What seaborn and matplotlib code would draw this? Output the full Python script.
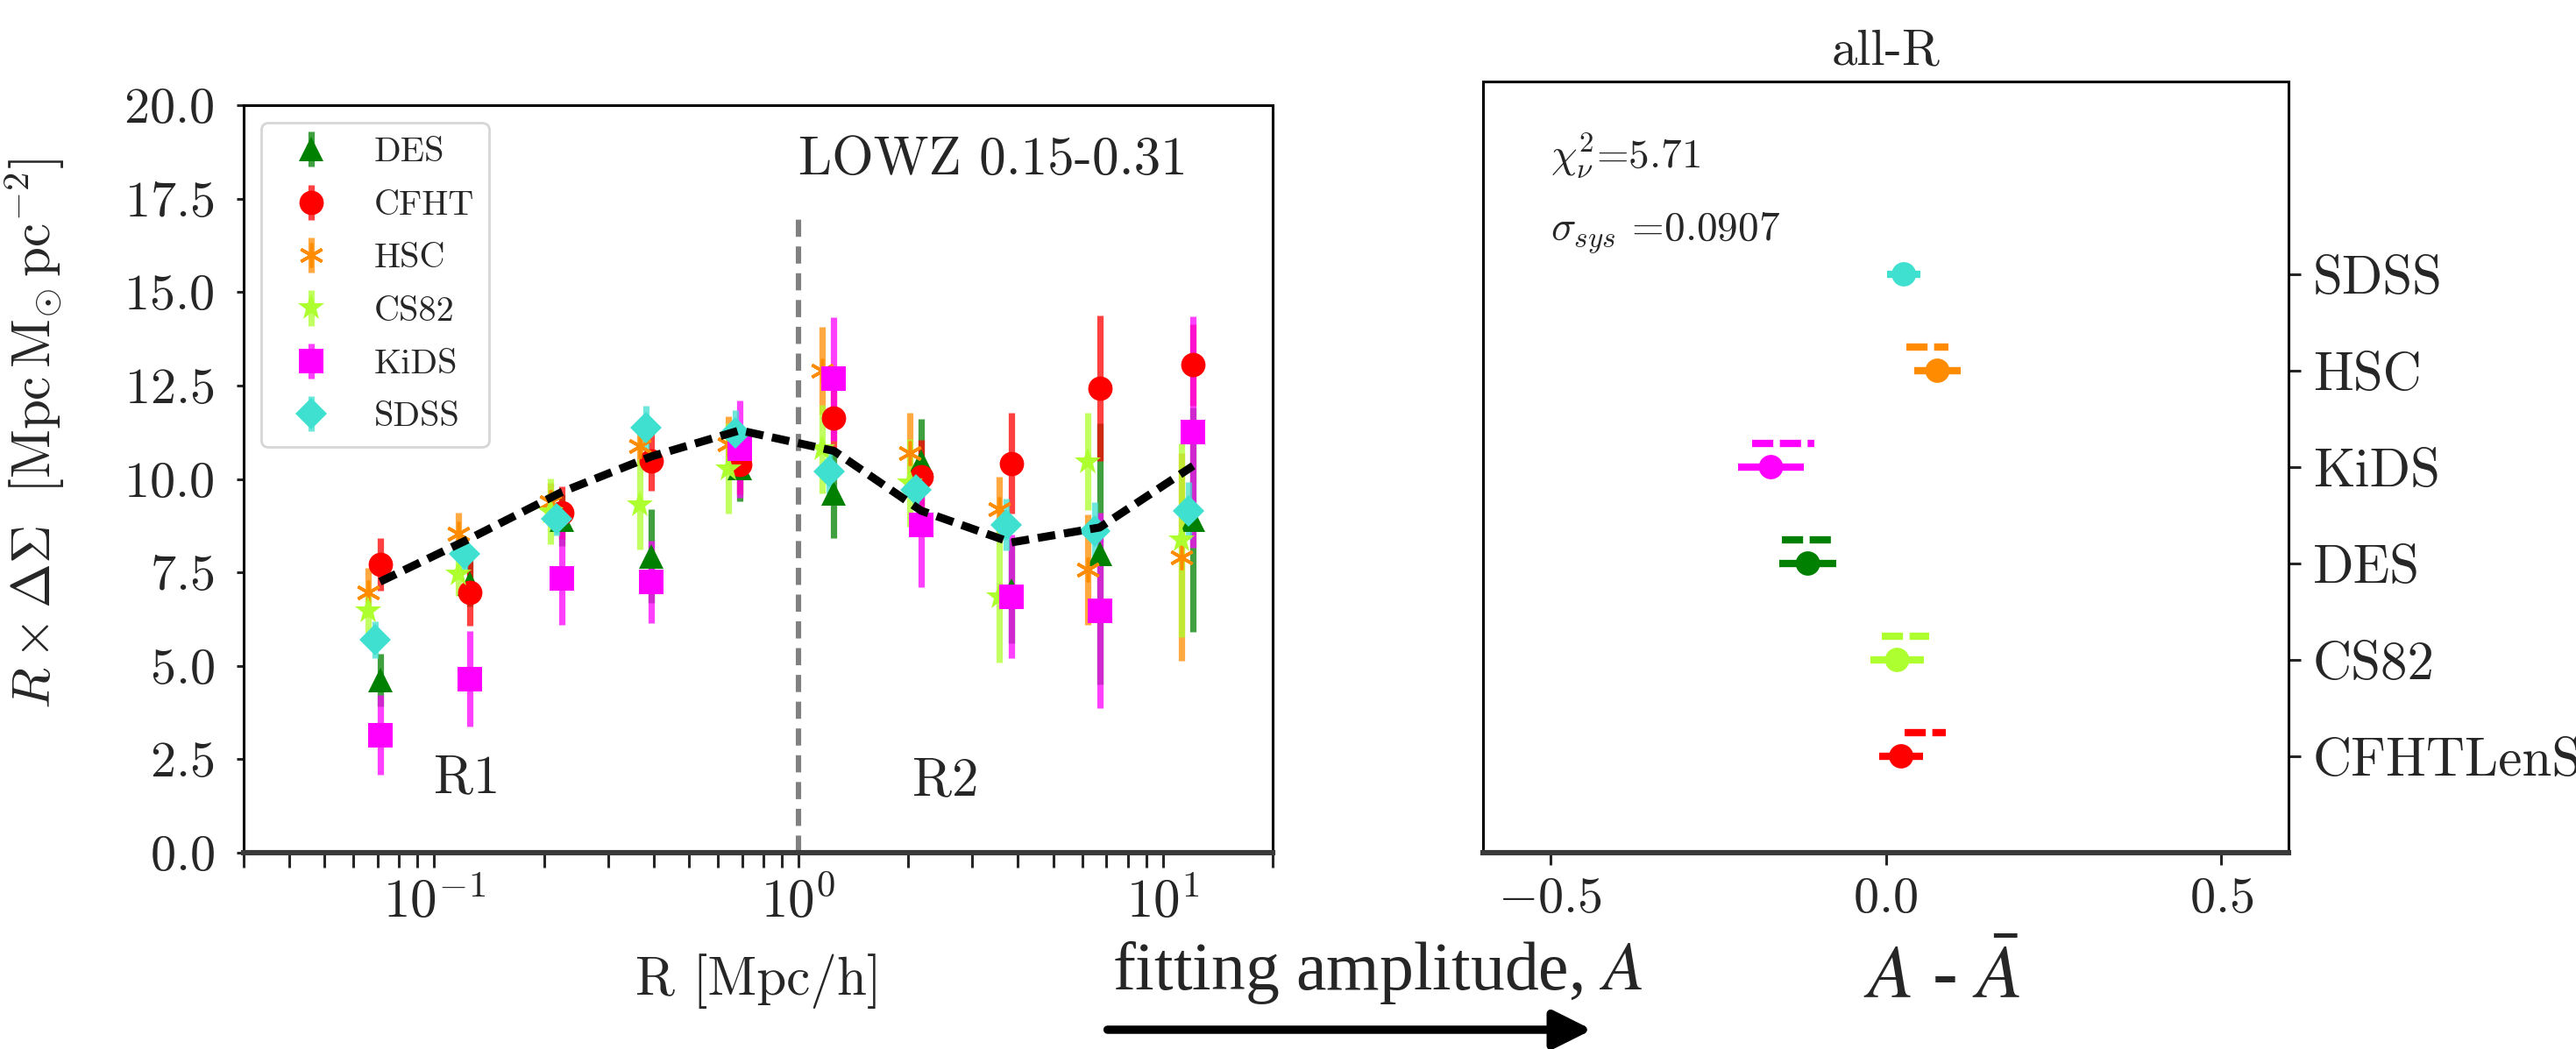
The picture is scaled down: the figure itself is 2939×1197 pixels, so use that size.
import matplotlib
matplotlib.use('Agg')
import matplotlib.pyplot as plt
import numpy as np
import pandas as pd
import seaborn as sns

# ---------------- data ----------------
R_bins = [0.071, 0.125, 0.224, 0.394, 0.69, 1.25, 2.17, 3.83, 6.7, 12.1]
model_curve = [7.25, 8.4, 9.65, 10.6, 11.3, 10.75, 9.15, 8.3, 8.7, 10.35]

des_y = [4.62, 7.2, 8.9, 7.93, 10.3, 9.62, 10.45, 7.0, 8.0, 8.9]
des_err = [0.7, 0.6, 0.7, 1.25, 0.9, 1.2, 1.15, 1.4, 3.5, 3.0]
cfht_y = [7.72, 6.97, 9.1, 10.49, 10.38, 11.63, 10.05, 10.42, 12.43, 13.05]
cfht_err = [0.7, 0.9, 0.7, 0.8, 0.8, 0.8, 1.0, 1.34, 1.95, 1.1]
hsc_y = [6.97, 8.54, 9.39, 10.87, 10.92, 12.89, 10.7, 9.2, 7.57, 7.91]
hsc_err = [0.66, 0.56, 0.5, 0.5, 0.75, 1.17, 1.06, 0.85, 1.47, 2.77]
cs82_y = [6.46, 7.46, 9.13, 9.32, 10.28, 10.8, 9.9, 6.85, 10.46, 8.36]
cs82_err = [0.6, 0.6, 0.88, 1.2, 1.2, 1.18, 1.17, 1.77, 1.3, 2.6]
kids_y = [3.15, 4.65, 7.35, 7.25, 10.8, 12.68, 8.78, 6.85, 6.48, 11.25]
kids_err = [1.07, 1.28, 1.26, 1.1, 1.3, 1.65, 1.67, 1.65, 2.62, 3.1]
sdss_y = [5.7, 8.0, 8.94, 11.36, 11.24, 10.21, 9.7, 8.78, 8.61, 9.15]
sdss_err = [0.5, 0.45, 0.45, 0.6, 0.6, 0.6, 0.5, 0.7, 0.76, 0.76]

survey_names = ['DES', 'CFHT', 'HSC', 'CS82', 'KiDS', 'SDSS']

amp_labels = ['CFHTLenS', 'CS82', 'DES', 'KiDS', 'HSC', 'SDSS']
amp_values = [0.023, 0.017, -0.116, -0.171, 0.077, 0.027]
amp_errs = [0.033, 0.040, 0.042, 0.049, 0.035, 0.025]
amp_alt_values = [0.059, 0.029, -0.118, -0.153, 0.062, np.nan]
amp_alt_errs = [0.031, 0.035, 0.037, 0.046, 0.031, np.nan]

chi2_text = r'$\chi^2_{\nu}$=5.71'
sigma_text = r'$\sigma_{sys}$ =0.0907'
split_R = 1.0
split_top = 17.0

# ---------------- style ----------------
sns.set_style('ticks')
plt.rcParams['font.family'] = ['cmr10', 'DejaVu Serif']
plt.rcParams['mathtext.fontset'] = 'cm'
plt.rcParams['axes.formatter.use_mathtext'] = True
plt.rcParams['axes.edgecolor'] = 'black'
plt.rcParams['axes.linewidth'] = 1.1

colors = {'DES': 'green', 'CFHT': 'red', 'HSC': 'darkorange', 'CS82': 'greenyellow',
          'KiDS': 'magenta', 'SDSS': 'turquoise'}
markers = {'DES': '^', 'CFHT': 'o', 'HSC': (6, 2, 0), 'CS82': '*', 'KiDS': 's', 'SDSS': 'D'}
msizes = {'DES': 10, 'CFHT': 10, 'HSC': 10, 'CS82': 11.5, 'KiDS': 10, 'SDSS': 9}
xshift = {'DES': 1.0, 'CFHT': 1.0, 'HSC': 0.93, 'CS82': 0.93, 'KiDS': 1.0, 'SDSS': 0.97}
amp_colors = ['red', 'greenyellow', 'green', 'magenta', 'darkorange', 'turquoise']

left_vals = {'DES': (des_y, des_err), 'CFHT': (cfht_y, cfht_err), 'HSC': (hsc_y, hsc_err),
             'CS82': (cs82_y, cs82_err), 'KiDS': (kids_y, kids_err), 'SDSS': (sdss_y, sdss_err)}

fmt_dec = matplotlib.ticker.FuncFormatter(lambda v, p: r'$%.1f$' % v)
fmt_pow = matplotlib.ticker.FuncFormatter(lambda v, p: r'$10^{%d}$' % int(round(np.log10(v))))

W, H = 2939, 1197
fig = plt.figure(figsize=(W / 200, H / 200), dpi=200)

# ---------------- left panel ----------------
ax = fig.add_axes([278 / W, 1 - 973 / H, (1452 - 278) / W, (973 - 120) / H])
ax.set_xscale('log')

for name in survey_names:
    yv, ev = left_vals[name]
    xs = np.array(R_bins) * xshift[name]
    ecol = matplotlib.colors.to_rgba(colors[name], 0.75)
    ax.errorbar(xs, yv, yerr=ev, fmt='', linestyle='none', marker=markers[name],
                color=colors[name], mfc=colors[name], mec=colors[name], ecolor=ecol,
                ms=msizes[name], mew=1.3 if name == 'HSC' else 0, elinewidth=2.6,
                capsize=0, label=name, zorder=3)

model_df = pd.DataFrame({'R': R_bins, 'model': model_curve})
sns.lineplot(data=model_df, x='R', y='model', ax=ax, color='black', lw=3.3,
             linestyle=(0, (2.2, 1.1)), sort=False, zorder=5)

ax.vlines(split_R, 0, split_top, colors='gray', linestyles=(0, (3.2, 1.8)), lw=2.2, zorder=2)

ax.set_xlim(0.03, 20)
ax.set_ylim(0, 20)
ax.set_yticks(np.arange(0, 20.01, 2.5))
ax.yaxis.set_major_formatter(fmt_dec)
ax.xaxis.set_major_formatter(fmt_pow)
ax.xaxis.set_minor_formatter(matplotlib.ticker.NullFormatter())
ax.tick_params(axis='y', labelsize=21, length=3, width=1.1, pad=9)
ax.tick_params(axis='x', which='major', labelsize=22, length=6, width=1.1, pad=4)
ax.tick_params(axis='x', which='minor', length=6, width=1.1)
ax.spines['bottom'].set_linewidth(2.2)
ax.spines['bottom'].set_color('#3a3a3a')

ax.set_ylabel(r'$R\times\Delta\Sigma\ \ [{\rm Mpc\,M_{\odot}\,pc^{-2}}]$', fontsize=22)
ax.yaxis.set_label_coords(-0.172, 0.56)
ax.set_xlabel('R [Mpc/h]', fontsize=22)
ax.xaxis.set_label_coords(0.5, -0.135)

ax.text(1.0, 18.15, 'LOWZ 0.15-0.31', fontsize=22, ha='left', va='baseline')
ax.text(0.1, 1.6, 'R1', fontsize=22, ha='left', va='baseline')
ax.text(2.05, 1.55, 'R2', fontsize=22, ha='left', va='baseline')

ax.legend(loc='upper left', fontsize=14.5, numpoints=1, frameon=True, fancybox=True,
          edgecolor='#cccccc', framealpha=0.8, labelspacing=0.6)

# ---------------- right panel ----------------
ax2 = fig.add_axes([1692 / W, 1 - 973 / H, (2611 - 1692) / W, (973 - 93) / H])
ypos = np.arange(len(amp_labels))
for i in range(len(amp_labels)):
    ax2.errorbar(amp_values[i], ypos[i], xerr=amp_errs[i], fmt='none', ecolor=amp_colors[i],
                 elinewidth=3.0, capsize=0, zorder=3)
    if not np.isnan(amp_alt_values[i]):
        eb = ax2.errorbar(amp_alt_values[i], ypos[i] + 0.25, xerr=amp_alt_errs[i], fmt='none',
                          ecolor=amp_colors[i], elinewidth=3.0, capsize=0, zorder=3)
        eb[2][0].set_linestyle((0, (2.9, 0.9)))

amp_df = pd.DataFrame({'A': amp_values, 'y': ypos, 'lab': amp_labels})
sns.scatterplot(data=amp_df, x='A', y='y', hue='lab', palette=dict(zip(amp_labels, amp_colors)),
                s=100, marker='o', edgecolor='none', legend=False, ax=ax2, zorder=4)

ax2.set_xlim(-0.6, 0.6)
ax2.set_ylim(-1, 7)
ax2.set_xticks([-0.5, 0.0, 0.5])
ax2.xaxis.set_major_formatter(fmt_dec)
ax2.set_yticks(ypos)
ax2.set_yticklabels(amp_labels)
ax2.yaxis.tick_right()
ax2.tick_params(axis='y', labelsize=22, length=5, width=1.1, pad=5, labelfontfamily='cmr10')
ax2.tick_params(axis='x', labelsize=21, length=5, width=1.1, pad=5)
ax2.spines['bottom'].set_linewidth(2.2)
ax2.spines['bottom'].set_color('#3a3a3a')
ax2.set_xlabel('')
ax2.set_ylabel('')
ax2.set_title('all-R', fontsize=21, pad=7)

ax2.text(-0.5, 6.1, chi2_text, fontsize=17, ha='left', va='baseline')
ax2.text(-0.5, 5.35, sigma_text, fontsize=17, ha='left', va='baseline')

# ---------------- figure annotations ----------------
fig.text(1269 / W, 1 - 1129 / H, r'fitting amplitude, $A$', fontsize=28,
         family='Liberation Serif', math_fontfamily='stix', ha='left', va='baseline')
fig.text(2126 / W, 1 - 1139 / H, r'$A$ - $\bar{A}$', fontsize=31,
         family='Liberation Serif', math_fontfamily='stix', ha='left', va='baseline')
fig.patches.append(matplotlib.patches.FancyArrowPatch(
    (1258 / W, 1 - 1175 / H), (1822 / W, 1 - 1175 / H), transform=fig.transFigure,
    arrowstyle='-|>,head_length=0.6,head_width=0.3', mutation_scale=22,
    lw=3.4, color='black'))

fig.savefig('out.png', dpi=200, facecolor='white')
